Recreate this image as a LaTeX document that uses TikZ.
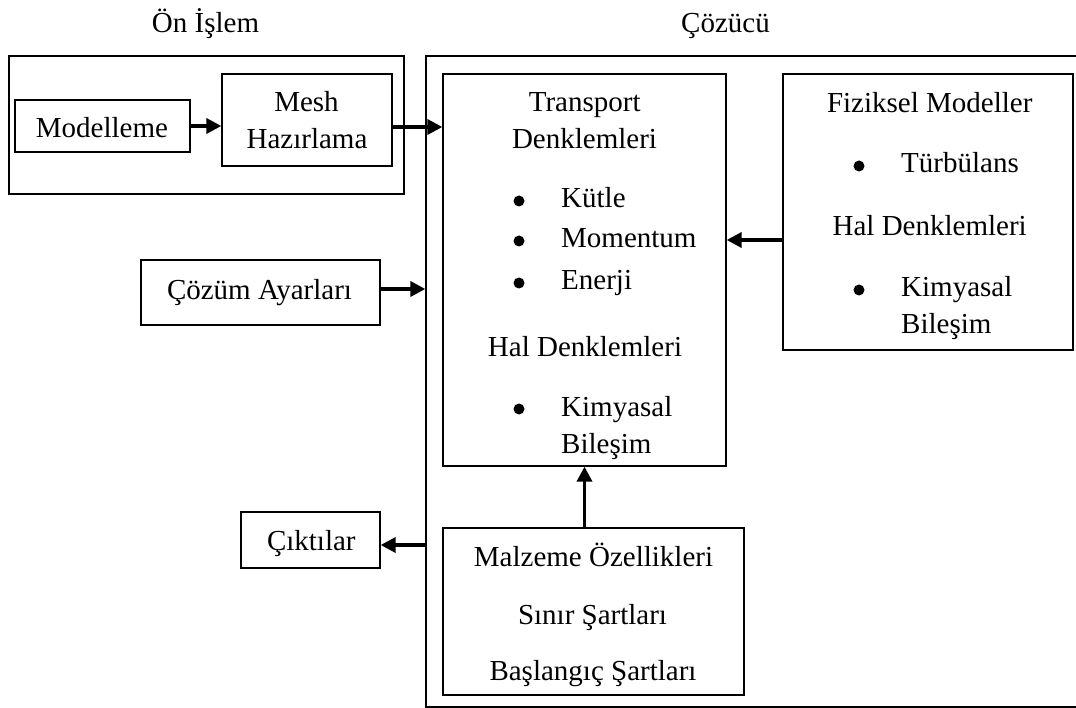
\documentclass[tikz,border=0pt]{standalone}
\usepackage{fontspec}
\setmainfont{Liberation Serif}
\usetikzlibrary{arrows.meta}

\tikzset{
  box/.style={draw, line width=1.3pt, rectangle, inner sep=0pt},
  txt/.style={anchor=base, inner sep=0pt, font=\fontsize{29}{35}\selectfont},
  ltxt/.style={anchor=base west, inner sep=0pt, font=\fontsize{29}{35}\selectfont},
  bul/.style={circle, fill=black, inner sep=0pt, minimum size=11pt},
  arr/.style={line width=3.5pt, -{Triangle[length=15pt, width=15pt]}},
}

\begin{document}
\begin{tikzpicture}[x=1pt, y=-1pt]
\useasboundingbox (0,0) rectangle (1076,708);
\clip (0,0) rectangle (1076,708);

% group frames
\node[box, minimum width=395pt, minimum height=138pt] (pre) at (206.5,125) {};
\node[box, minimum width=664pt, minimum height=651pt] (solver) at (758,381.5) {};
\node[txt] (preTitle) at (205.5,33) {Ön İşlem};
\node[txt] (solverTitle) at (725.5,33) {Çözücü};

% pre-processing
\node[box, minimum width=175pt, minimum height=52pt] (model) at (102.5,126) {};
\node[txt] (modelT) at (102,137.7) {Modelleme};
\node[box, minimum width=170pt, minimum height=92pt] (mesh) at (307,120) {};
\node[txt] (meshT1) at (306.5,112) {Mesh};
\node[txt] (meshT2) at (307,149) {Hazırlama};

% transport equations
\node[box, minimum width=283pt, minimum height=392pt] (transport) at (584.5,270) {};
\node[txt] (trT1) at (584.7,112) {Transport};
\node[txt] (trT2) at (584.5,149) {Denklemleri};
\node[bul] (trB1) at (519,201) {};
\node[ltxt] (trL1) at (561,208) {Kütle};
\node[bul] (trB2) at (519,241) {};
\node[ltxt] (trL2) at (561,248) {Momentum};
\node[bul] (trB3) at (519,283) {};
\node[ltxt] (trL3) at (561,290) {Enerji};
\node[txt] (trT3) at (585,356) {Hal Denklemleri};
\node[bul] (trB4) at (519,409) {};
\node[ltxt] (trL4) at (561,416) {Kimyasal};
\node[ltxt] (trL5) at (561,453) {Bileşim};

% physical models
\node[box, minimum width=290pt, minimum height=276pt] (fiz) at (928,212) {};
\node[txt] (fzT1) at (929.7,112.7) {Fiziksel Modeller};
\node[bul] (fzB1) at (859,166) {};
\node[ltxt] (fzL1) at (901,173) {Türbülans};
\node[txt] (fzT2) at (929.7,236) {Hal Denklemleri};
\node[bul] (fzB2) at (859,290) {};
\node[ltxt] (fzL2) at (901,297) {Kimyasal};
\node[ltxt] (fzL3) at (901,334) {Bileşim};

% solver settings and outputs
\node[box, minimum width=239pt, minimum height=65pt] (cozum) at (260.5,292.5) {};
\node[txt] (cozumT) at (259.5,300) {Çözüm Ayarları};
\node[box, minimum width=139pt, minimum height=56pt] (cikti) at (310.5,540) {};
\node[txt] (ciktiT) at (311.3,550) {Çıktılar};

% material and boundary data
\node[box, minimum width=301pt, minimum height=167pt] (malzeme) at (593.5,611.5) {};
\node[txt] (mzT1) at (593.5,566.7) {Malzeme Özellikleri};
\node[txt] (mzT2) at (592.5,624) {Sınır Şartları};
\node[txt] (mzT3) at (593,680.7) {Başlangıç Şartları};

% connectors
\coordinate (meshOut) at ([yshift=-7pt]mesh.east);
\coordinate (cozumOut) at ([yshift=3.5pt]cozum.east);
\coordinate (fizOut) at ([yshift=-28pt]fiz.west);
\coordinate (ciktiIn) at ([yshift=-5pt]cikti.east);

\draw[arr] (model.east) -- (mesh.west |- model.east);
\draw[arr] (meshOut) -- (transport.west |- meshOut);
\draw[arr] (cozumOut) -- (solver.west |- cozumOut);
\draw[arr] (fizOut) -- (transport.east |- fizOut);
\draw[arr] (transport.south |- malzeme.north) -- (transport.south);
\draw[arr] (solver.west |- ciktiIn) -- (ciktiIn);
\end{tikzpicture}
\end{document}
